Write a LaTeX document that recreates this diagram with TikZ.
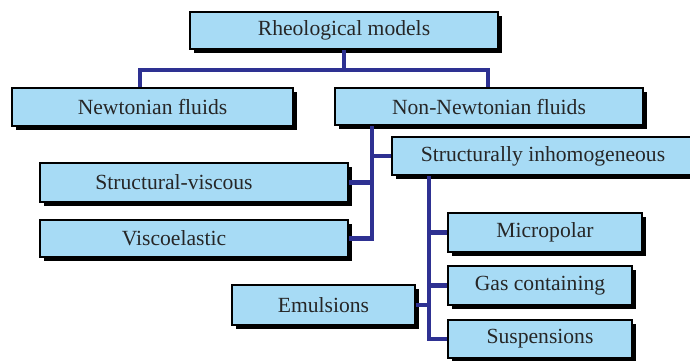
\documentclass[tikz,border=0pt]{standalone}
\usepackage{fontspec}
\setmainfont{Liberation Serif}
\usepackage{xcolor}
\usepackage{tikz}
\usetikzlibrary{shadows}
\definecolor{boxblue}{HTML}{A7DBF5}
\definecolor{linkblue}{HTML}{2E3192}
\definecolor{inkgray}{HTML}{262626}

\begin{document}
\begin{tikzpicture}[
    x=0.02cm, y=-0.02cm,
    mbox/.style={rectangle, draw=black, line width=0.9pt, fill=boxblue, inner sep=0pt,
        text=inkgray, font=\fontsize{12.3}{14}\selectfont,
        drop shadow={shadow xshift=0.075cm, shadow yshift=-0.075cm, fill=black, opacity=1}},
    lshift/.style={execute at end node={\hspace*{0.8cm}}},
    link/.style={draw=linkblue, line width=2.3pt}
]
\useasboundingbox (0,0) rectangle (690,360);
\clip (0,0) rectangle (690,360);

\node[mbox, minimum width=6.16cm, minimum height=0.74cm] (rheo) at (344,30.5) {Rheological models};
\node[mbox, minimum width=5.62cm, minimum height=0.76cm] (newt) at (152.5,107) {Newtonian fluids};
\node[mbox, minimum width=6.16cm, minimum height=0.74cm] (nonnewt) at (489,106.5) {Non-Newtonian fluids};
\node[mbox, minimum width=6.04cm, minimum height=0.76cm] (inhom) at (543,156) {Structurally inhomogeneous};
\node[mbox, lshift, minimum width=6.16cm, minimum height=0.78cm] (strv) at (194,182.5) {Structural-viscous};
\node[mbox, lshift, minimum width=6.16cm, minimum height=0.74cm] (visc) at (194,238.5) {Viscoelastic};
\node[mbox, minimum width=3.88cm, minimum height=0.78cm] (micro) at (545,232.5) {Micropolar};
\node[mbox, minimum width=3.68cm, minimum height=0.78cm] (gas) at (540,285.5) {Gas containing};
\node[mbox, minimum width=3.68cm, minimum height=0.76cm] (susp) at (540,339) {Suspensions};
\node[mbox, minimum width=3.66cm, minimum height=0.80cm] (emul) at (323.5,305) {Emulsions};

% junction points of the tree
\coordinate (j1) at (140,70);
\coordinate (j2) at (488,70);
\coordinate (t1) at (372,0);
\coordinate (t2) at (429,0);

\draw[link] (rheo.south) -- (rheo.south |- j1);
\draw[link] (j1 |- newt.north) -- (j1) -- (j2) -- (j2 |- nonnewt.north);

\draw[link] (t1 |- nonnewt.south) -- (t1 |- visc.east) -- (visc.east);
\draw[link] (t1 |- inhom.west) -- (inhom.west);
\draw[link] (t1 |- strv.east) -- (strv.east);

\draw[link] (t2 |- inhom.south) -- (t2 |- susp.west) -- (susp.west);
\draw[link] (t2 |- micro.west) -- (micro.west);
\draw[link] (t2 |- gas.west) -- (gas.west);
\draw[link] (t2 |- emul.east) -- (emul.east);
\end{tikzpicture}
\end{document}
